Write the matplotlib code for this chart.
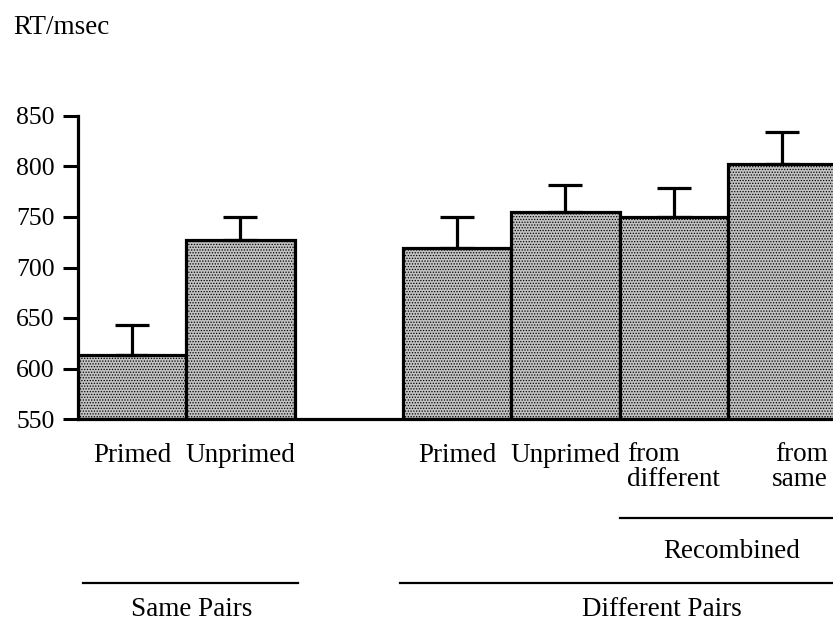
import numpy as np
import matplotlib.pyplot as plt
from matplotlib.transforms import blended_transform_factory

plt.rcParams['font.family'] = ['Liberation Serif', 'DejaVu Serif']
plt.rcParams['hatch.color'] = '#6e6e6e'
plt.rcParams['hatch.linewidth'] = 0.6

# bar positions (left edges) and values
positions = [0, 1, 3, 4, 5, 6]
rt_means = [613, 727, 719, 755, 750, 802]
rt_err = [30, 23, 31, 27, 29, 32]
bar_labels = ['Primed', 'Unprimed', 'Primed', 'Unprimed']

fs = 19.5

fig = plt.figure(figsize=(8.33, 6.21), dpi=100)
ax = fig.add_axes([78 / 833, (621 - 419) / 621, 1 - 78 / 833, 303 / 621])

x = np.array(positions) + 0.5
ax.bar(x, np.array(rt_means) - 550, width=1.0, bottom=550,
       facecolor='#c2c2c2', edgecolor='black', linewidth=2.3,
       hatch='......', zorder=2)
ax.errorbar(x, rt_means, yerr=[np.zeros(len(rt_err)), rt_err], fmt='none',
            ecolor='black', elinewidth=2.3, capsize=12, capthick=2.3, zorder=3)

ax.set_xlim(0, 6.97)
ax.set_ylim(550, 850)
ax.set_yticks(range(550, 851, 50))
ax.set_xticks([])
ax.tick_params(axis='y', direction='out', length=11, width=2.2, labelsize=18.5, pad=6)
for s in ['top', 'right']:
    ax.spines[s].set_visible(False)
ax.spines['left'].set_linewidth(2.3)
ax.spines['bottom'].set_linewidth(2.3)

fig.text(13 / 833, 1 - 27 / 621, 'RT/msec', fontsize=fs, va='center', ha='left')

# category labels under the bars
trans = blended_transform_factory(ax.transData, fig.transFigure)
yl = 1 - 455 / 621
for xi, lab in zip(x[:4], bar_labels):
    ax.text(xi, yl, lab, transform=trans, fontsize=fs, ha='center', va='center')
ax.text(5.07, 1 - 467 / 621, 'from\ndifferent', transform=trans, fontsize=fs,
        ha='left', va='center', multialignment='left', linespacing=1.0)
ax.text(6.92, 1 - 467 / 621, 'from\nsame', transform=trans, fontsize=fs,
        ha='right', va='center', multialignment='right', linespacing=1.0)

# group brackets
def group_line(x0, x1, y_line, y_text, text, xt):
    fig.add_artist(plt.Line2D([x0 / 833, x1 / 833], [1 - y_line / 621, 1 - y_line / 621],
                              color='black', linewidth=1.6))
    fig.text(xt / 833, 1 - y_text / 621, text, fontsize=fs, ha='center', va='center')

group_line(620, 833, 518, 552, 'Recombined', 732)
group_line(83, 298, 583, 610, 'Same Pairs', 192)
group_line(400, 833, 583, 610, 'Different Pairs', 662)

fig.savefig('out.png', dpi=100)
